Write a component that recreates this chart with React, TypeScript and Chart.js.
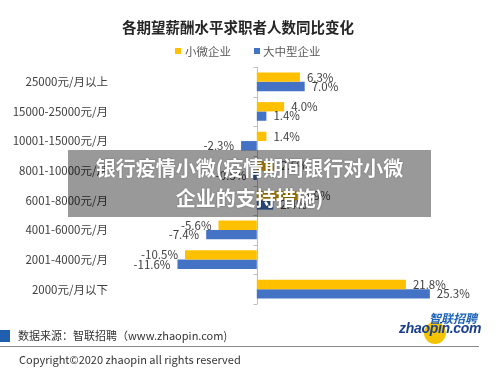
import React, { useEffect, useRef } from "react";
import { Chart, registerables } from "chart.js";

Chart.register(...registerables);

const categories = [
  "25000元/月以上",
  "15000-25000元/月",
  "10001-15000元/月",
  "8001-10000元/月",
  "6001-8000元/月",
  "4001-6000元/月",
  "2001-4000元/月",
  "2000元/月以下",
];
const seriesNames = ["小微企业", "大中型企业"];
const smallMicro = [6.3, 4.0, 1.4, 2.5, 5.9, -5.6, -10.5, 21.8];
const largeMedium = [7.0, 1.4, -2.3, -0.5, 2.4, -7.4, -11.6, 25.3];
const seriesColors = ["#FFC000", "#4472C4"];
const xMin = -20;
const xMax = 30;

const FONT = '"Noto Sans CJK SC", "Noto Sans", sans-serif';

const zeroAxisPlugin = {
  id: "zeroAxis",
  beforeDatasetsDraw(chart: any) {
    const { ctx, scales } = chart;
    const x = Math.round(scales.x.getPixelForValue(0)) + 0.5;
    const y = scales.y;
    const n = categories.length;
    const top = y.getPixelForValue(-0.5);
    const bottom = y.getPixelForValue(n - 0.5);
    ctx.save();
    ctx.strokeStyle = "#BFBFBF";
    ctx.lineWidth = 1;
    ctx.beginPath();
    ctx.moveTo(x, top);
    ctx.lineTo(x, bottom);
    for (let i = 0; i <= n; i++) {
      const yy = Math.round(y.getPixelForValue(i - 0.5)) + 0.5;
      ctx.moveTo(x - 4, yy);
      ctx.lineTo(x, yy);
    }
    ctx.stroke();
    ctx.restore();
  },
};

const valueLabelPlugin = {
  id: "valueLabels",
  afterDatasetsDraw(chart: any) {
    const { ctx } = chart;
    ctx.save();
    ctx.font = `11.5px ${FONT}`;
    ctx.fillStyle = "#404040";
    ctx.textBaseline = "middle";
    chart.data.datasets.forEach((ds: any, i: number) => {
      const meta = chart.getDatasetMeta(i);
      meta.data.forEach((el: any, j: number) => {
        const v = ds.data[j];
        const txt = v.toFixed(1) + "%";
        if (v >= 0) {
          ctx.textAlign = "left";
          ctx.fillText(txt, el.x + 7, el.y);
        } else {
          ctx.textAlign = "right";
          ctx.fillText(txt, el.x - 7, el.y);
        }
      });
    });
    ctx.restore();
  },
};

export default function App() {
  const ref = useRef<HTMLCanvasElement | null>(null);

  useEffect(() => {
    if (!ref.current) return;
    const chart = new Chart(ref.current, {
      type: "bar",
      data: {
        labels: categories,
        datasets: [
          {
            label: seriesNames[0],
            data: smallMicro,
            backgroundColor: seriesColors[0],
            barPercentage: 1,
            categoryPercentage: 0.63,
          },
          {
            label: seriesNames[1],
            data: largeMedium,
            backgroundColor: seriesColors[1],
            barPercentage: 1,
            categoryPercentage: 0.63,
          },
        ],
      },
      options: {
        indexAxis: "y",
        animation: false,
        responsive: false,
        devicePixelRatio: 1,
        layout: { padding: { left: 8, right: 38, top: 67, bottom: 64 } },
        plugins: {
          legend: { display: false },
          title: { display: false },
          tooltip: { enabled: false },
        },
        scales: {
          x: { display: false, min: xMin, max: xMax },
          y: {
            grid: { display: false, drawTicks: false },
            border: { display: false },
            ticks: {
              padding: 12,
              color: "#404040",
              font: { size: 11.5, family: FONT },
            },
            afterFit: (scale: any) => {
              scale.width = 112;
            },
          },
        },
      },
      plugins: [zeroAxisPlugin, valueLabelPlugin],
    });
    return () => chart.destroy();
  }, []);

  return (
    <div
      style={{
        position: "fixed",
        left: 0,
        top: 0,
        width: 500,
        height: 368,
        background: "#fff",
        overflow: "hidden",
        fontFamily: FONT,
      }}
    >
      <canvas ref={ref} width={500} height={368} style={{ position: "absolute", left: 0, top: 0 }} />
      <div
        style={{
          position: "absolute",
          left: 0,
          top: 17,
          width: 476,
          textAlign: "center",
          fontSize: 14.5,
          fontWeight: 700,
          color: "#262626",
          lineHeight: "20px",
        }}
      >
        各期望薪酬水平求职者人数同比变化
      </div>
      <div style={{ position: "absolute", left: 175, top: 48, width: 6, height: 6, background: seriesColors[0] }} />
      <div style={{ position: "absolute", left: 185, top: 43, fontSize: 11.5, color: "#595959", lineHeight: "16px" }}>
        {seriesNames[0]}
      </div>
      <div style={{ position: "absolute", left: 254, top: 48, width: 6, height: 6, background: seriesColors[1] }} />
      <div style={{ position: "absolute", left: 263, top: 43, fontSize: 11.5, color: "#595959", lineHeight: "16px" }}>
        {seriesNames[1]}
      </div>

      <div
        style={{
          position: "absolute",
          left: 68,
          top: 150,
          width: 363,
          height: 67,
          background: "rgba(0,0,0,0.4)",
          color: "#fff",
          fontWeight: 700,
          fontSize: 20,
          lineHeight: "30px",
          textAlign: "center",
          paddingTop: 3,
          boxSizing: "border-box",
          textShadow: "0 0 2px rgba(0,0,0,0.35)",
        }}
      >
        银行疫情小微(疫情期间银行对小微
        <br />
        企业的支持措施)
      </div>

      <div style={{ position: "absolute", left: 0, top: 330, width: 10, height: 12, background: "#1F5FB0" }} />
      <div style={{ position: "absolute", left: 18, top: 327, fontSize: 11, color: "#333", lineHeight: "16px", whiteSpace: "nowrap" }}>
        数据来源：智联招聘（www.zhaopin.com)
      </div>
      <div style={{ position: "absolute", left: 0, top: 346, width: 479, height: 1, background: "#8C8C8C" }} />
      <div style={{ position: "absolute", left: 19, top: 351, fontSize: 11, color: "#333", lineHeight: "16px", whiteSpace: "nowrap" }}>
        Copyright©2020 zhaopin all rights reserved
      </div>

      <div style={{ position: "absolute", left: 424, top: 322, width: 22, height: 22, borderRadius: 11, background: "#F5C400" }} />
      <div
        style={{
          position: "absolute",
          left: 429,
          top: 311,
          fontSize: 12,
          fontStyle: "italic",
          fontWeight: 700,
          color: "#1E63B8",
          lineHeight: "13px",
          whiteSpace: "nowrap",
        }}
      >
        智联招聘
      </div>
      <div
        style={{
          position: "absolute",
          left: 399,
          top: 321,
          fontSize: 14,
          fontStyle: "italic",
          fontWeight: 700,
          color: "#1B3F8F",
          lineHeight: "14px",
          whiteSpace: "nowrap",
          fontFamily: '"Liberation Sans", sans-serif',
          letterSpacing: -0.3,
        }}
      >
        zhaopin.com
      </div>
    </div>
  );
}
